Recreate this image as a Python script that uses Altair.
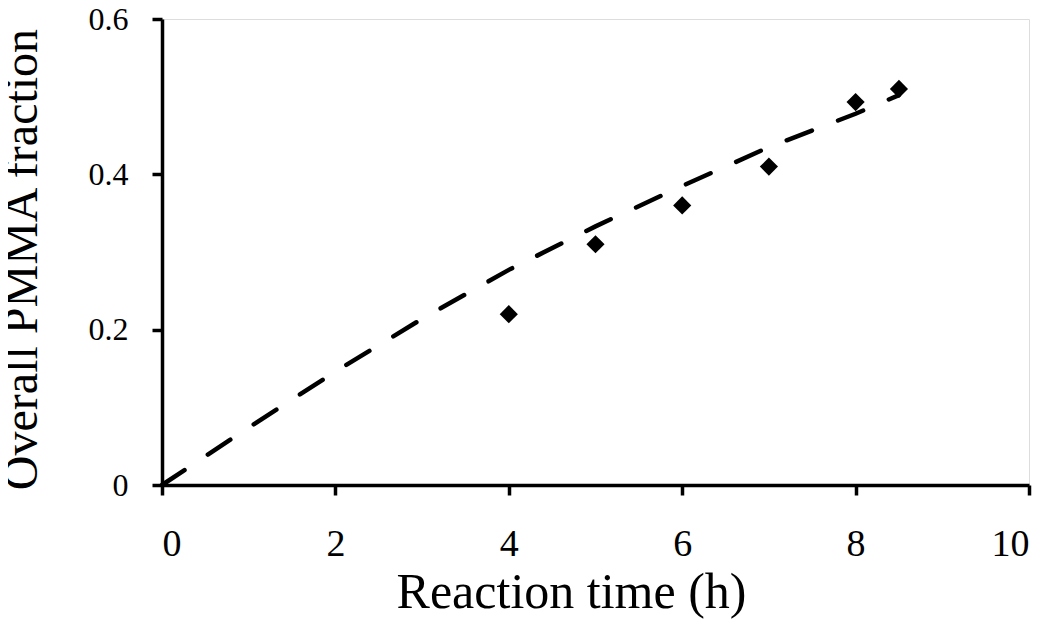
import altair as alt
import pandas as pd

# measured data points (reaction time h, PMMA fraction)
time_pts = [4, 5, 6, 7, 8, 8.5]
frac_pts = [0.22, 0.31, 0.36, 0.41, 0.493, 0.51]

# model curve (dashed)
time_fit = [0, 1, 2, 3, 4, 5, 6, 7, 8, 8.5]
frac_fit = [0.0, 0.074, 0.146, 0.214, 0.277, 0.333, 0.385, 0.435, 0.478, 0.502]

x_ticks = [0, 2, 4, 6, 8, 10]
y_ticks = [0, 0.2, 0.4, 0.6]

pts = pd.DataFrame({"t": time_pts, "f": frac_pts})
fit = pd.DataFrame({"t": time_fit, "f": frac_fit})

FONT = "Liberation Serif"

xscale = alt.Scale(domain=[0, 10], nice=False, zero=False)
yscale = alt.Scale(domain=[0, 0.6], nice=False, zero=False)

xax = alt.Axis(
    title="Reaction time (h)", values=x_ticks, grid=False, format="d",
    domainColor="black", domainWidth=3.5, tickColor="black", tickWidth=3.5, tickSize=10,
    labelFont=FONT, labelFontSize=38, labelColor="black", labelPadding=30,
    titleFont=FONT, titleFontSize=50, titleFontWeight="normal", titleColor="black",
    titleX=409, titleY=122, titleAlign="center", titleBaseline="alphabetic",
)
yax = alt.Axis(
    title="Overall PMMA  fraction", values=y_ticks, grid=False, format=".1~f",
    domainColor="black", domainWidth=3.5, tickColor="black", tickWidth=3.5, tickSize=10,
    labelFont=FONT, labelFontSize=32, labelColor="black", labelPadding=24,
    titleFont=FONT, titleFontSize=48, titleFontWeight="normal", titleColor="black",
    titleX=-116, titleY=240, titleAlign="center", titleAngle=-90,
)

line = alt.Chart(fit).mark_line(
    color="black", strokeWidth=4.5, strokeDash=[27, 28], strokeCap="round"
).encode(
    x=alt.X("t:Q", scale=xscale, axis=xax),
    y=alt.Y("f:Q", scale=yscale, axis=yax),
)

points = alt.Chart(pts).mark_point(
    shape="diamond", filled=True, color="black", size=330, opacity=1
).encode(
    x=alt.X("t:Q", scale=xscale),
    y=alt.Y("f:Q", scale=yscale),
)

chart = alt.layer(line, points).properties(
    width=867, height=466,
    autosize=alt.AutoSizeParams(type="none"),
    padding={"left": 154, "top": 11, "right": 13, "bottom": 135},
).configure_view(stroke=None).configure(background="white")

chart.save("out.html", embed_options={"renderer": "svg", "actions": False})
